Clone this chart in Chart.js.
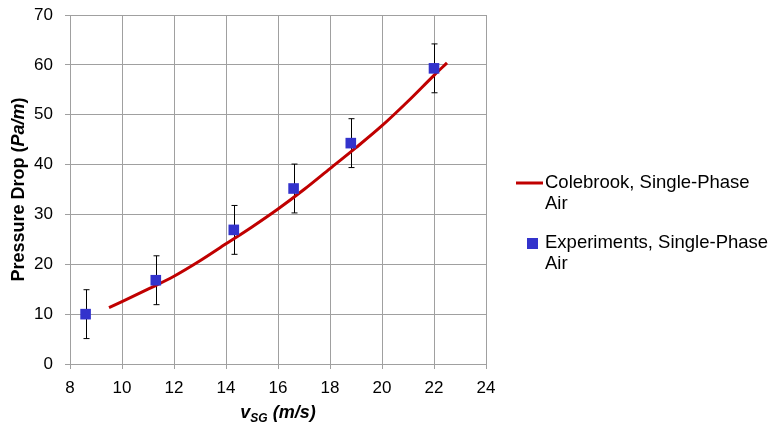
<!DOCTYPE html>
<html>
<head>
<meta charset="utf-8">
<script src="https://cdn.jsdelivr.net/npm/chart.js@4"></script>
<style>
  html, body { margin: 0; padding: 0; background: #fff; }
</style>
</head>
<body>
<canvas id="pressureChart" width="772" height="426"></canvas>
<script>
// Colebrook prediction, single-phase air
const curveVsg = [9.5, 10, 11, 12, 13, 14, 15, 16, 17, 18, 19, 20, 21, 22, 22.5];
const curveDp = [11.3, 12.5, 15.0, 17.6, 20.7, 24.1, 27.5, 31.1, 35.0, 39.2, 43.4, 47.8, 52.7, 57.9, 60.4];

// measured points with their uncertainty
const expVsg = [8.6, 11.3, 14.3, 16.6, 18.8, 22.0];
const expDp = [10.0, 16.8, 26.9, 35.2, 44.3, 59.3];
const expErr = [4.9, 4.9, 4.9, 4.9, 4.9, 4.9];

const xTicks = [8, 10, 12, 14, 16, 18, 20, 22, 24];
const yTicks = [0, 10, 20, 30, 40, 50, 60, 70];

const legendLines = [
  ['Colebrook, Single-Phase', 'Air'],
  ['Experiments, Single-Phase', 'Air']
];

const FONT = '"Liberation Sans", Arial, sans-serif';
const RED = '#C00000';
const BLUE = '#3333CC';
const GRID = '#A0A0A0';

const errorBars = {
  id: 'errorBars',
  beforeDatasetsDraw(chart) {
    const { ctx, scales: { x, y } } = chart;
    ctx.save();
    ctx.strokeStyle = '#000';
    ctx.lineWidth = 1;
    expVsg.forEach((v, i) => {
      const px = Math.round(x.getPixelForValue(v)) + 0.5;
      const top = y.getPixelForValue(expDp[i] + expErr[i]);
      const bot = y.getPixelForValue(expDp[i] - expErr[i]);
      ctx.beginPath();
      ctx.moveTo(px, top); ctx.lineTo(px, bot);
      ctx.moveTo(px - 3, top); ctx.lineTo(px + 3, top);
      ctx.moveTo(px - 3, bot); ctx.lineTo(px + 3, bot);
      ctx.stroke();
    });
    ctx.restore();
  }
};

// axis titles need subscript / mixed italic, so they are drawn by hand
const axisTitles = {
  id: 'axisTitles',
  afterDraw(chart) {
    const { ctx, chartArea } = chart;
    const big = 'bold italic 18px ' + FONT;
    const small = 'bold italic 12px ' + FONT;
    const plain = 'bold 18px ' + FONT;
    ctx.save();
    ctx.fillStyle = '#000';
    ctx.textBaseline = 'alphabetic';
    ctx.textAlign = 'left';

    // x title: v_SG (m/s)
    ctx.font = big; const w1 = ctx.measureText('v').width;
    ctx.font = small; const w2 = ctx.measureText('SG').width;
    ctx.font = big; const w3 = ctx.measureText(' (m/s)').width;
    let x = (chartArea.left + chartArea.right) / 2 - (w1 + w2 + w3) / 2;
    ctx.font = big; ctx.fillText('v', x, 418); x += w1;
    ctx.font = small; ctx.fillText('SG', x, 422); x += w2;
    ctx.font = big; ctx.fillText(' (m/s)', x, 418);

    // y title: Pressure Drop (Pa/m)
    const parts = [['Pressure Drop (', plain], ['Pa/m', big], [')', plain]];
    let total = 0;
    parts.forEach(p => { ctx.font = p[1]; total += ctx.measureText(p[0]).width; });
    ctx.translate(24, (chartArea.top + chartArea.bottom) / 2);
    ctx.rotate(-Math.PI / 2);
    let t = -total / 2;
    parts.forEach(p => {
      ctx.font = p[1];
      ctx.fillText(p[0], t, 0);
      t += ctx.measureText(p[0]).width;
    });
    ctx.restore();
  }
};

const sideLegend = {
  id: 'sideLegend',
  afterDraw(chart) {
    const { ctx } = chart;
    ctx.save();
    ctx.font = '18.5px ' + FONT;
    ctx.fillStyle = '#000';
    ctx.textBaseline = 'middle';
    ctx.textAlign = 'left';
    const rows = [183, 243];
    // line sample
    ctx.strokeStyle = RED;
    ctx.lineWidth = 3;
    ctx.beginPath();
    ctx.moveTo(516, rows[0]); ctx.lineTo(543, rows[0]);
    ctx.stroke();
    // square sample
    ctx.fillStyle = BLUE;
    ctx.fillRect(527, rows[1] - 5, 11, 11);
    ctx.fillStyle = '#000';
    legendLines.forEach((lines, i) => {
      lines.forEach((s, j) => ctx.fillText(s, 545, rows[i] + j * 21));
    });
    ctx.restore();
  }
};

const curvePts = curveVsg.map((v, i) => ({ x: v, y: curveDp[i] }));
const expPts = expVsg.map((v, i) => ({ x: v, y: expDp[i] }));

Chart.defaults.font.family = FONT;
Chart.defaults.color = '#000';

new Chart(document.getElementById('pressureChart'), {
  type: 'scatter',
  data: {
    datasets: [
      {
        label: legendLines[1].join(' '),
        data: expPts,
        pointStyle: 'rect',
        pointRadius: 7.5,
        pointHoverRadius: 7.5,
        backgroundColor: BLUE,
        borderColor: BLUE,
        borderWidth: 0,
        order: 0
      },
      {
        label: legendLines[0].join(' '),
        data: curvePts,
        showLine: true,
        borderColor: RED,
        borderWidth: 3,
        pointRadius: 0,
        tension: 0.4,
        cubicInterpolationMode: 'monotone',
        order: 1
      }
    ]
  },
  options: {
    responsive: false,
    animation: false,
    devicePixelRatio: 1,
    layout: { padding: { top: 15, right: 286, left: 0, bottom: 0 } },
    plugins: {
      legend: { display: false },
      tooltip: { enabled: false }
    },
    scales: {
      x: {
        type: 'linear',
        min: 8,
        max: 24,
        afterBuildTicks: s => { s.ticks = xTicks.map(v => ({ value: v })); },
        afterFit: s => { s.height = 62; },
        grid: { color: GRID, lineWidth: 1, tickLength: 5, tickColor: GRID },
        border: { color: GRID },
        ticks: { font: { size: 17 }, padding: 9, color: '#000', maxRotation: 0 }
      },
      y: {
        type: 'linear',
        min: 0,
        max: 70,
        afterBuildTicks: s => { s.ticks = yTicks.map(v => ({ value: v })); },
        afterFit: s => { s.width = 70; s.paddingTop = 0; s.paddingBottom = 0; },
        grid: { color: GRID, lineWidth: 1, tickLength: 5, tickColor: GRID },
        border: { color: GRID },
        ticks: { font: { size: 17 }, padding: 12, color: '#000' }
      }
    }
  },
  plugins: [errorBars, axisTitles, sideLegend]
});
</script>
</body>
</html>
